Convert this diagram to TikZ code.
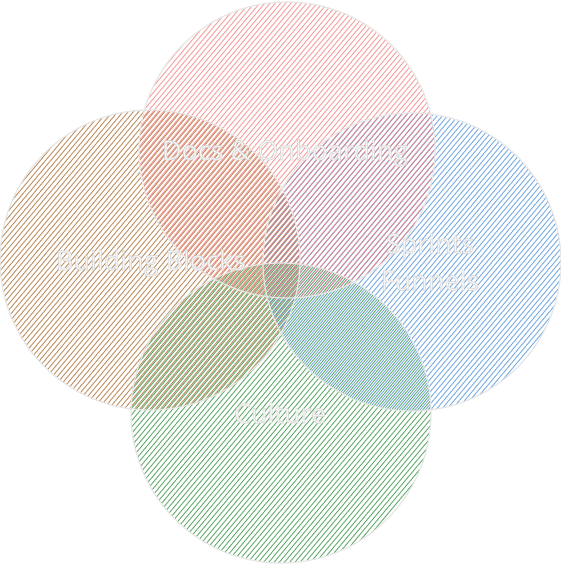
\documentclass[tikz,border=0pt]{standalone}
\usepackage{fontspec}
\setmainfont{Open Sans}
\definecolor{cred}{HTML}{F47C7C}
\definecolor{cbrown}{HTML}{A86A2C}
\definecolor{cblue}{HTML}{4A90DA}
\definecolor{cgreen}{HTML}{2F8F3C}
\definecolor{cedge}{HTML}{E6E6E6}
\definecolor{ctext}{HTML}{F4F4F4}
\newcommand{\outl}[1]{\special{pdf:code q 2 Tr 0.5 w 0.82 G}#1\special{pdf:code 0 Tr Q}}
\tikzset{
  vcircle/.style={circle, inner sep=0pt, minimum size=#1, draw=cedge, line width=1.2pt},
  hatch/.style={line width=0.9pt, draw opacity=0.75},
  lbl/.style={text=ctext, font=\fontsize{27}{37}\selectfont, align=center},
}
% \hatchcircle{cx}{cy}{r}{colour}{offset}
\newcommand{\hatchcircle}[5]{%
  \begin{scope}
    \clip (#1,#2) circle[radius=#3];
    \foreach \t in {-160,-156,...,160}{
      \draw[hatch, draw=#4] ({#1+(\t+#5)*sin(50)-170*cos(50)},{#2+(\t+#5)*cos(50)+170*sin(50)})
        -- ({#1+(\t+#5)*sin(50)+170*cos(50)},{#2+(\t+#5)*cos(50)-170*sin(50)});
    }
  \end{scope}}
\begin{document}
\begin{tikzpicture}[x=1pt,y=-1pt]
\useasboundingbox (0,0) rectangle (561,564);
\hatchcircle{150}{260}{150}{cbrown}{0}
\hatchcircle{412}{262}{149}{cblue}{1.3}
\hatchcircle{281}{413}{150}{cgreen}{2.6}
\hatchcircle{287}{150}{148}{cred}{0.7}
\node[vcircle=300pt] (brown) at (150,260) {};
\node[vcircle=298pt] (blue) at (412,262) {};
\node[vcircle=300pt] (green) at (281,413) {};
\node[vcircle=296pt] (red) at (287,150) {};
\node[lbl] (redlbl) at (285,153) {\outl{Docs \& Onboarding}};
\node[lbl] (brownlbl) at (151,263) {\outl{Building Blocks}};
\node[lbl] (bluelbl) at (430,262) {\outl{Sprints}\\\outl{Funnels}};
\node[lbl] (greenlbl) at (280,413) {\outl{Culture}};
\end{tikzpicture}
\end{document}
